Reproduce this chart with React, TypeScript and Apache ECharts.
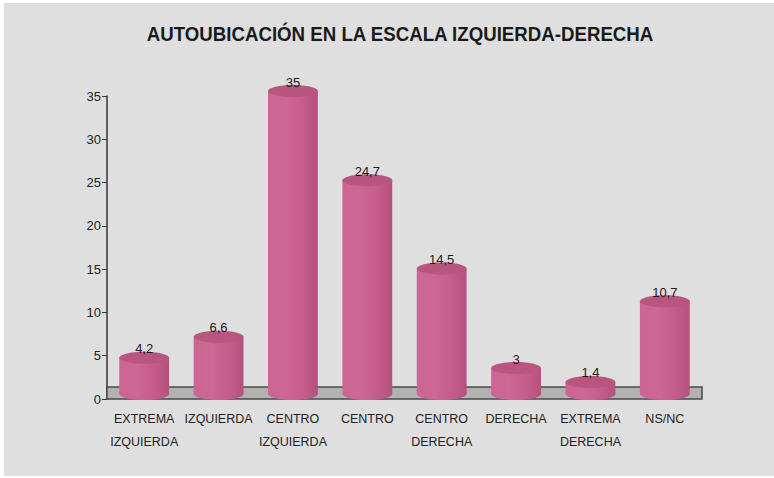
import React, { useEffect, useRef } from "react";
import * as echarts from "echarts";

const categories = [
  "EXTREMA\nIZQUIERDA",
  "IZQUIERDA",
  "CENTRO\nIZQUIERDA",
  "CENTRO",
  "CENTRO\nDERECHA",
  "DERECHA",
  "EXTREMA\nDERECHA",
  "NS/NC",
];
const values = [4.2, 6.6, 35, 24.7, 14.5, 3, 1.4, 10.7];
const titleText = "AUTOUBICACIÓN EN LA ESCALA IZQUIERDA-DERECHA";

const FONT = "'Liberation Sans', Arial, sans-serif";

export default function App() {
  const ref = useRef<HTMLDivElement>(null);
  useEffect(() => {
    const chart = echarts.init(ref.current!, null, { renderer: "svg" });
    const DEPTH = 5;
    const RY = 6;
    const bodyFill = new echarts.graphic.LinearGradient(0, 0, 1, 0, [
      { offset: 0, color: "#cc6593" },
      { offset: 0.35, color: "#cd6794" },
      { offset: 0.7, color: "#c55d8a" },
      { offset: 1, color: "#b4517c" },
    ]);
    chart.setOption({
      animation: false,
      backgroundColor: "#ffffff",
      graphic: [
        {
          type: "rect",
          shape: { x: 4, y: 3, width: 770, height: 473 },
          style: { fill: "#dfdfdf" },
          z: -10,
          silent: true,
        },
        {
          type: "text",
          x: 400,
          y: 34,
          scaleX: 0.89,
          style: {
            text: titleText,
            align: "center",
            verticalAlign: "middle",
            fontFamily: FONT,
            fontWeight: "bold",
            fontSize: 21,
            fill: "#1a1a1a",
          },
        },
      ],
      grid: { left: 107, right: 72, top: 96, bottom: 79 },
      xAxis: {
        type: "category",
        data: categories,
        axisLine: { show: false },
        axisTick: { show: false },
        axisLabel: {
          interval: 0,
          margin: 8,
          fontFamily: FONT,
          fontSize: 12.5,
          lineHeight: 23,
          color: "#222",
          verticalAlign: "top",
        },
      },
      yAxis: {
        type: "value",
        min: 0,
        max: 35,
        interval: 5,
        splitLine: { show: false },
        axisLine: { show: true, lineStyle: { color: "#333", width: 1.5 } },
        axisTick: { show: true, length: 5, lineStyle: { color: "#333" } },
        axisLabel: {
          margin: 6,
          fontFamily: FONT,
          fontSize: 13,
          color: "#222",
        },
      },
      series: [
        {
          type: "custom",
          data: [0],
          z: 1,
          renderItem: (params: any, api: any) => {
            const cs = params.coordSys;
            const y0 = api.coord([0, 0])[1];
            return {
              type: "rect",
              shape: { x: cs.x, y: y0 - 12, width: cs.width, height: 12 },
              style: { fill: "#b2b2b2", stroke: "#4a4a4a", lineWidth: 1.5 },
            };
          },
        },
        {
          type: "custom",
          data: values.map((v, i) => [i, v]),
          encode: { x: 0, y: 1 },
          z: 2,
          renderItem: (params: any, api: any) => {
            const idx = api.value(0);
            const v = api.value(1);
            const top = api.coord([idx, v]);
            const bottom = api.coord([idx, 0]);
            const w = api.size([1, 0])[0] * 0.67;
            const cx = top[0];
            const yT = top[1] - DEPTH;
            const yB = bottom[1] - DEPTH;
            const label = String(v).replace(".", ",");
            return {
              type: "group",
              children: [
                {
                  type: "ellipse",
                  shape: { cx, cy: yB, rx: w / 2, ry: RY },
                  style: { fill: bodyFill },
                },
                {
                  type: "rect",
                  shape: { x: cx - w / 2, y: yT, width: w, height: yB - yT },
                  style: { fill: bodyFill },
                },
                {
                  type: "ellipse",
                  shape: { cx, cy: yT, rx: w / 2, ry: RY },
                  style: { fill: "#b9567f" },
                },
                {
                  type: "text",
                  style: {
                    text: label,
                    x: cx,
                    y: yT - 9,
                    align: "center",
                    verticalAlign: "middle",
                    fontFamily: FONT,
                    fontSize: 13,
                    fill: "#1a1a1a",
                  },
                },
              ],
            };
          },
        },
      ],
    });
    return () => chart.dispose();
  }, []);
  return <div ref={ref} style={{ width: 774, height: 478, position: "absolute", left: 0, top: 0 }} />;
}
